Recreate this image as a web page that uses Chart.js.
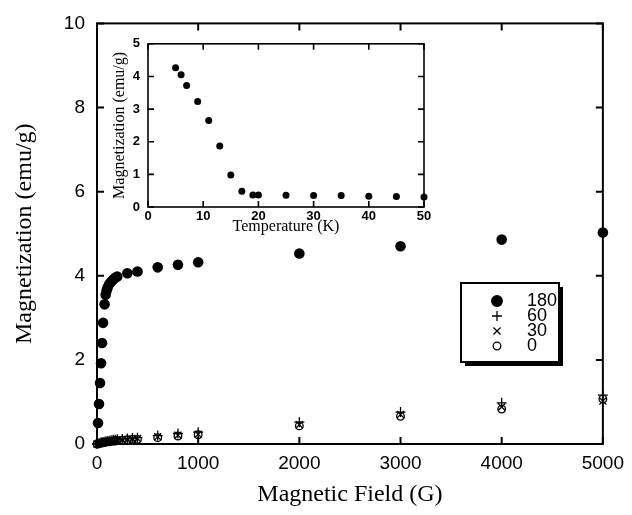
<!DOCTYPE html>
<html>
<head>
<meta charset="utf-8">
<script src="https://cdn.jsdelivr.net/npm/chart.js@4"></script>
<style>
  body { margin: 0; background: #fff; }
  #wrap { position: relative; width: 632px; height: 515px; }
  #main { position: absolute; left: 0; top: 0; }
  #inset { position: absolute; left: 105px; top: 28px; }
</style>
</head>
<body>
<div id="wrap">
  <canvas id="main" width="632" height="515"></canvas>
  <canvas id="inset" width="340" height="212"></canvas>
</div>
<script>
// datos
const campo180 = [10, 20, 30, 40, 50, 60, 75, 85, 95, 105, 120, 140, 160, 180, 200, 300, 400, 600, 800, 1000, 2000, 3000, 4000, 5000];
const mag180 = [0.5, 0.95, 1.45, 1.92, 2.4, 2.88, 3.32, 3.55, 3.65, 3.72, 3.8, 3.86, 3.91, 3.95, 3.98, 4.06, 4.1, 4.2, 4.26, 4.32, 4.53, 4.7, 4.86, 5.03];

const campoBajo = [0, 20, 40, 60, 80, 100, 120, 140, 160, 180, 200, 250, 300, 350, 400, 600, 800, 1000, 2000, 3000, 4000, 5000];
const mag60 = [0, 0.02, 0.04, 0.05, 0.06, 0.07, 0.08, 0.09, 0.1, 0.1, 0.11, 0.12, 0.13, 0.14, 0.15, 0.2, 0.25, 0.28, 0.52, 0.76, 0.98, 1.16];
const mag30 = [0, 0.01, 0.03, 0.04, 0.05, 0.06, 0.07, 0.07, 0.08, 0.09, 0.09, 0.1, 0.11, 0.12, 0.13, 0.17, 0.21, 0.23, 0.46, 0.7, 0.88, 1.02];
const mag0 = [0, 0.01, 0.02, 0.03, 0.04, 0.05, 0.05, 0.06, 0.07, 0.07, 0.08, 0.09, 0.1, 0.11, 0.11, 0.15, 0.19, 0.22, 0.43, 0.66, 0.83, 1.07];

const etiquetas = ['180', '60', '30', '0'];

const temperatura = [5, 6, 7, 9, 11, 13, 15, 17, 19, 20, 25, 30, 35, 40, 45, 50];
const magTemp = [4.27, 4.05, 3.72, 3.23, 2.65, 1.87, 0.98, 0.48, 0.37, 0.37, 0.36, 0.35, 0.35, 0.33, 0.32, 0.31];

const ticksCampo = [0, 1000, 2000, 3000, 4000, 5000];
const ticksMag = [0, 2, 4, 6, 8, 10];
const ticksTemp = [0, 10, 20, 30, 40, 50];
const ticksMagTemp = [0, 1, 2, 3, 4, 5];

const sans = "'Liberation Sans Narrow', 'Arial Narrow', 'Liberation Sans', Arial, sans-serif";
const serif = "'Liberation Serif', 'Times New Roman', serif";

function puntos(xs, ys) {
    return xs.map((x, i) => ({ x: x, y: ys[i] }));
}

// marco con marcas hacia dentro
const marcoPlugin = {
    id: 'marco',
    afterDatasetsDraw(chart, args, opts) {
        const { ctx, chartArea: a, scales } = chart;
        ctx.save();
        ctx.strokeStyle = '#000';
        ctx.lineWidth = opts.width;
        ctx.strokeRect(a.left, a.top, a.right - a.left, a.bottom - a.top);
        scales.x.ticks.forEach(t => {
            const px = scales.x.getPixelForValue(t.value);
            ctx.beginPath();
            ctx.moveTo(px, a.bottom); ctx.lineTo(px, a.bottom - opts.len);
            ctx.moveTo(px, a.top); ctx.lineTo(px, a.top + opts.len);
            ctx.stroke();
        });
        scales.y.ticks.forEach(t => {
            const py = scales.y.getPixelForValue(t.value);
            ctx.beginPath();
            ctx.moveTo(a.left, py); ctx.lineTo(a.left + opts.len, py);
            ctx.moveTo(a.right, py); ctx.lineTo(a.right - opts.len, py);
            ctx.stroke();
        });
        ctx.restore();
    }
};

// leyenda con sombra
const leyendaPlugin = {
    id: 'leyendaCaja',
    afterDraw(chart, args, opts) {
        if (!opts.display) return;
        const ctx = chart.ctx;
        const bx = 461, by = 283, bw = 98, bh = 79;
        ctx.save();
        ctx.fillStyle = '#000';
        ctx.fillRect(bx + 4, by + 4, bw, bh);
        ctx.fillStyle = '#fff';
        ctx.fillRect(bx, by, bw, bh);
        ctx.strokeStyle = '#000';
        ctx.lineWidth = 2;
        ctx.strokeRect(bx, by, bw, bh);
        ctx.textBaseline = 'middle';
        chart.data.datasets.forEach((ds, i) => {
            const y = 301 + i * 15;
            ctx.strokeStyle = '#000';
            ctx.fillStyle = ds.backgroundColor;
            ctx.lineWidth = 1.3;
            Chart.helpers.drawPoint(ctx, {
                pointStyle: ds.pointStyle,
                radius: ds.pointRadius,
                borderWidth: 1.3,
                rotation: 0
            }, 497, y);
            ctx.font = '18px ' + sans;
            ctx.fillStyle = '#000';
            ctx.fillText(ds.label, 527, y);
        });
        ctx.restore();
    }
};

function ejeX(ticks, fontTicks, titulo, fontTitulo, alto, padTicks, padTitulo) {
    return {
        type: 'linear',
        min: ticks[0],
        max: ticks[ticks.length - 1],
        afterBuildTicks: s => { s.ticks = ticks.map(v => ({ value: v })); },
        afterFit: s => { s.height = alto; },
        grid: { display: false, drawTicks: false },
        border: { display: false },
        ticks: { color: '#000', font: fontTicks, padding: padTicks, maxRotation: 0, callback: v => String(v) },
        title: { display: true, text: titulo, color: '#000', font: fontTitulo, padding: { top: 0, bottom: padTitulo } }
    };
}

function ejeY(ticks, fontTicks, titulo, fontTitulo, ancho, padTicks, padTitulo) {
    return {
        type: 'linear',
        min: ticks[0],
        max: ticks[ticks.length - 1],
        afterBuildTicks: s => { s.ticks = ticks.map(v => ({ value: v })); },
        afterFit: s => { s.width = ancho; },
        grid: { display: false, drawTicks: false },
        border: { display: false },
        ticks: { color: '#000', font: fontTicks, padding: padTicks, callback: v => String(v) },
        title: { display: true, text: titulo, color: '#000', font: fontTitulo, padding: { top: padTitulo, bottom: 0 } }
    };
}

new Chart(document.getElementById('main'), {
    type: 'scatter',
    data: {
        datasets: [
            { label: etiquetas[0], data: puntos(campo180, mag180), pointStyle: 'circle', pointRadius: 5.3, backgroundColor: '#000', borderColor: '#000', borderWidth: 0, clip: false },
            { label: etiquetas[1], data: puntos(campoBajo, mag60), pointStyle: 'cross', pointRadius: 5, backgroundColor: '#000', borderColor: '#000', borderWidth: 1.3, clip: false },
            { label: etiquetas[2], data: puntos(campoBajo, mag30), pointStyle: 'crossRot', pointRadius: 5, backgroundColor: '#000', borderColor: '#000', borderWidth: 1.3, clip: false },
            { label: etiquetas[3], data: puntos(campoBajo, mag0), pointStyle: 'circle', pointRadius: 3.8, backgroundColor: 'rgba(255,255,255,0)', borderColor: '#000', borderWidth: 1.3, clip: false }
        ]
    },
    options: {
        responsive: false,
        animation: false,
        layout: { padding: { top: 22, right: 27, left: 0, bottom: 0 } },
        plugins: {
            legend: { display: false },
            tooltip: { enabled: false },
            marco: { width: 2, len: 7 },
            leyendaCaja: { display: true }
        },
        scales: {
            x: ejeX(ticksCampo, { family: sans, size: 19 }, 'Magnetic Field (G)', { family: serif, size: 24 }, 71, 8, 6),
            y: ejeY(ticksMag, { family: sans, size: 19 }, 'Magnetization (emu/g)', { family: serif, size: 24 }, 97, 12, 10)
        }
    },
    plugins: [marcoPlugin, leyendaPlugin]
});

new Chart(document.getElementById('inset'), {
    type: 'scatter',
    data: {
        datasets: [
            { label: 'T', data: puntos(temperatura, magTemp), pointStyle: 'circle', pointRadius: 3.5, backgroundColor: '#000', borderColor: '#000', borderWidth: 0, clip: false }
        ]
    },
    options: {
        responsive: false,
        animation: false,
        layout: { padding: { top: 13, right: 21, left: 0, bottom: 0 } },
        plugins: {
            legend: { display: false },
            tooltip: { enabled: false },
            marco: { width: 1.6, len: 6 },
            leyendaCaja: { display: false }
        },
        scales: {
            x: ejeX(ticksTemp, { family: sans, size: 13, weight: 'bold' }, 'Temperature (K)', { family: serif, size: 16 }, 33, 2, 4),
            y: ejeY(ticksMagTemp, { family: sans, size: 13, weight: 'bold' }, 'Magnetization (emu/g)', { family: serif, size: 16 }, 43, 8, 5)
        }
    },
    plugins: [marcoPlugin, leyendaPlugin]
});
</script>
</body>
</html>
